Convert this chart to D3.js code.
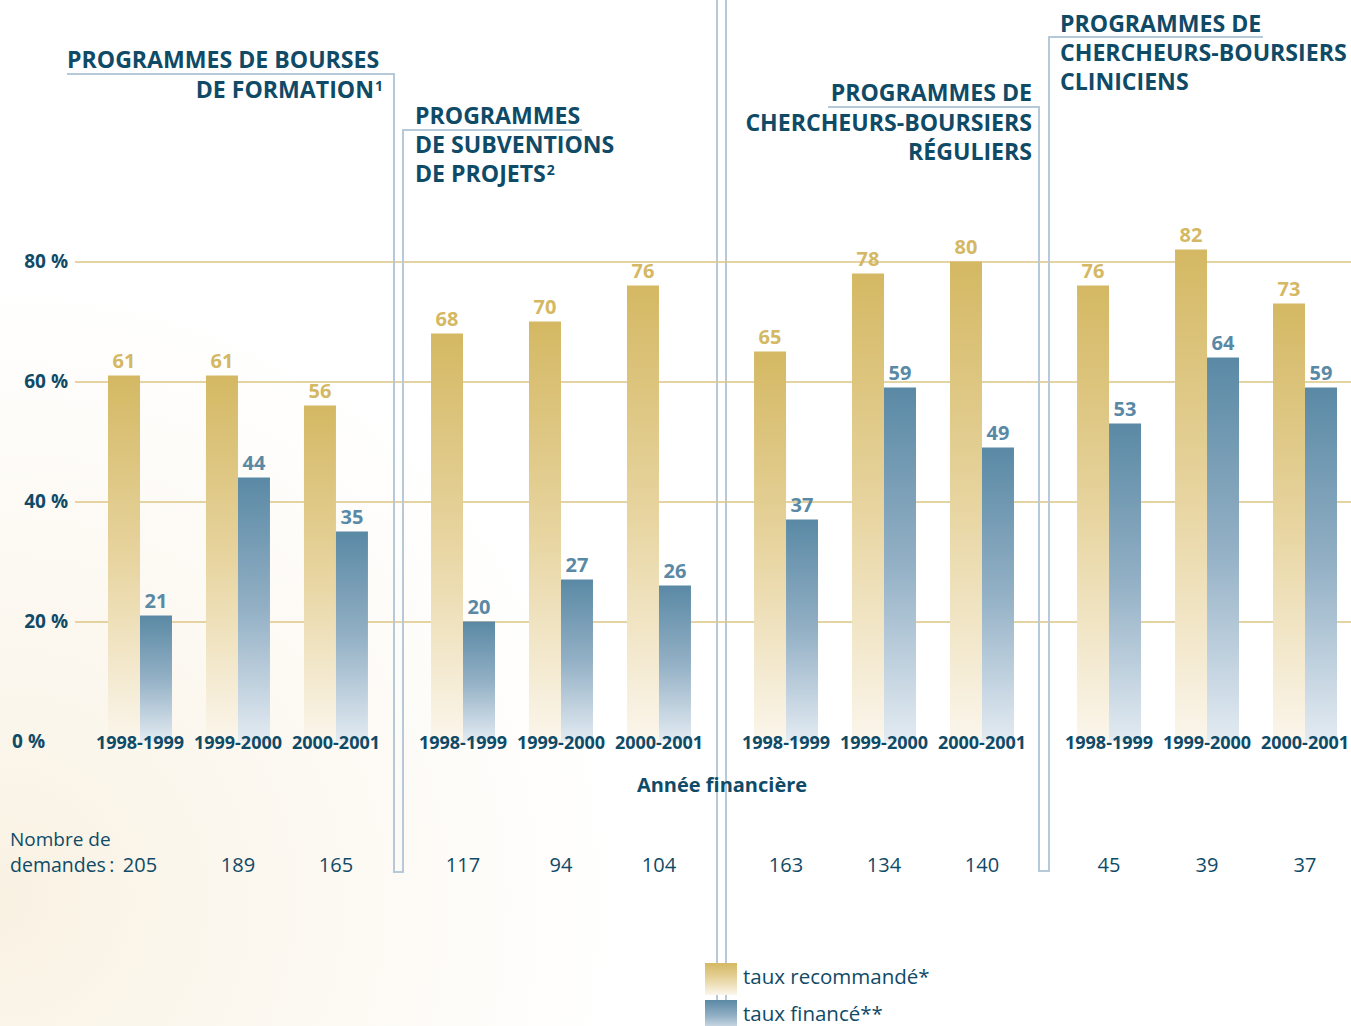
<!DOCTYPE html>
<html>
<head>
<meta charset="utf-8">
<script src="https://cdn.jsdelivr.net/npm/d3@7"></script>
<style>
  body { margin: 0; background: #fff; }
  svg { display: block; font-family: "Open Sans", sans-serif; }
</style>
</head>
<body>
<svg width="1351" height="1026"></svg>
<script>
// program groups and their titles
var programmes = ["formation", "subventions", "reguliers", "cliniciens"];
var years = ["1998-1999", "1999-2000", "2000-2001"];
var series = ["recommandé", "financé"];

// taux recommandé / taux financé (%)
var recommande = [[61, 61, 56], [68, 70, 76], [65, 78, 80], [76, 82, 73]];
var finance = [[21, 44, 35], [20, 27, 26], [37, 59, 49], [53, 64, 59]];
// nombre de demandes
var demandes = [[205, 189, 165], [117, 94, 104], [163, 134, 140], [45, 39, 37]];

var yTicks = [0, 20, 40, 60, 80];
var legendLabels = ["taux recommandé*", "taux financé**"];

var svg = d3.select("svg"),
    width = 1351,
    height = 1026,
    textColor = "#0f4a67",
    gold = "#d4b863",
    blue = "#5a89a5",
    bracketColor = "#b6c9d9";

var defs = svg.append("defs");

function addGradient(id, stops) {
  var g = defs.append("linearGradient").attr("id", id)
      .attr("x1", 0).attr("y1", 0).attr("x2", 0).attr("y2", 1);
  g.selectAll("stop").data(stops).enter().append("stop")
      .attr("offset", function(d) { return d[0]; })
      .attr("stop-color", function(d) { return d[1]; });
}
addGradient("gradRec", [[0, "#d4b863"], [0.5, "#e7d49f"], [1, "#fbf6ec"]]);
addGradient("gradFin", [[0, "#5a89a5"], [0.5, "#93b0c5"], [1, "#e3ebf2"]]);

// faint cream wash on the left side of the page
var bg = defs.append("radialGradient").attr("id", "gradBg")
    .attr("gradientUnits", "userSpaceOnUse")
    .attr("cx", 0).attr("cy", 900).attr("r", 620);
bg.selectAll("stop").data([[0, "#f9f2e3"], [0.45, "#fcf8f0"], [1, "#ffffff"]])
  .enter().append("stop")
    .attr("offset", function(d) { return d[0]; })
    .attr("stop-color", function(d) { return d[1]; });

svg.append("rect").attr("width", width).attr("height", height).attr("fill", "url(#gradBg)");

// scales
var x0 = d3.scaleBand().domain(programmes).range([91, 1354]).paddingInner(0.09);
var x1 = d3.scaleBand().domain(years).range([0, x0.bandwidth()]).paddingInner(0.347).paddingOuter(0.1735);
var xs = d3.scaleBand().domain(series).range([0, x1.bandwidth()]);
var y = d3.scaleLinear().domain([0, 80]).range([741.5, 261.5]);

// page divider (double line)
svg.selectAll(".divider")
  .data([717, 726])
  .enter().append("line")
    .attr("x1", function(d) { return d; }).attr("x2", function(d) { return d; })
    .attr("y1", 0).attr("y2", height)
    .attr("stroke", bracketColor).attr("stroke-width", 2);

// gridlines + y labels via axis
var yAxis = svg.append("g")
    .attr("transform", "translate(75,0)")
    .call(d3.axisLeft(y).tickValues(yTicks).tickSize(-(width - 75)).tickPadding(7)
      .tickFormat(function(d) { return d + " %"; }));
yAxis.select(".domain").remove();
yAxis.selectAll(".tick line")
    .attr("stroke", "#dcc684").attr("stroke-width", 1.5)
    .filter(function(d) { return d === 0; }).remove();
yAxis.selectAll(".tick text")
    .attr("fill", textColor).style("font-size", "19px").style("font-weight", 700)
    .style("font-family", "'Open Sans', sans-serif");
yAxis.selectAll(".tick text").filter(function(d) { return d === 0; })
    .attr("x", -30);

// bars
var groups = svg.selectAll(".prog")
  .data(programmes)
  .enter().append("g")
    .attr("class", "prog")
    .attr("transform", function(d) { return "translate(" + x0(d) + ",0)"; });

var cats = groups.selectAll(".cat")
  .data(function(p, i) {
    return years.map(function(yr, j) {
      return { year: yr, values: [recommande[i][j], finance[i][j]], n: demandes[i][j] };
    });
  })
  .enter().append("g")
    .attr("class", "cat")
    .attr("transform", function(d) { return "translate(" + x1(d.year) + ",0)"; });

cats.selectAll("rect")
  .data(function(d) { return d.values.map(function(v, k) { return { s: series[k], v: v }; }); })
  .enter().append("rect")
    .attr("x", function(d) { return xs(d.s); })
    .attr("y", function(d) { return y(d.v); })
    .attr("width", xs.bandwidth())
    .attr("height", function(d) { return y(0) - y(d.v); })
    .attr("fill", function(d) { return d.s === series[0] ? "url(#gradRec)" : "url(#gradFin)"; });

cats.selectAll(".val")
  .data(function(d) { return d.values.map(function(v, k) { return { s: series[k], v: v }; }); })
  .enter().append("text")
    .attr("class", "val")
    .attr("x", function(d) { return xs(d.s) + xs.bandwidth() / 2; })
    .attr("y", function(d) { return y(d.v) - 8; })
    .attr("text-anchor", "middle")
    .style("font-size", "20px").style("font-weight", 700)
    .attr("fill", function(d) { return d.s === series[0] ? gold : blue; })
    .text(function(d) { return d.v; });

// year labels
cats.append("text")
    .attr("x", x1.bandwidth() / 2)
    .attr("y", 749)
    .attr("text-anchor", "middle")
    .attr("fill", textColor)
    .style("font-size", "18px").style("font-weight", 700)
    .text(function(d) { return d.year; });

// nombre de demandes
cats.append("text")
    .attr("x", x1.bandwidth() / 2)
    .attr("y", 872)
    .attr("text-anchor", "middle")
    .attr("fill", textColor)
    .style("font-size", "20px")
    .text(function(d) { return d.n; });

svg.append("text").attr("x", 10).attr("y", 846).attr("fill", textColor)
    .style("font-size", "19px").text("Nombre de");
svg.append("text").attr("x", 10).attr("y", 872).attr("fill", textColor)
    .style("font-size", "19.5px").text("demandes\u2009:");

svg.append("text").attr("x", 722).attr("y", 792).attr("text-anchor", "middle")
    .attr("fill", textColor).style("font-size", "20px").style("font-weight", 700)
    .text("Année financière");

// brackets around program titles
var bracketPaths = [
  "M67,74H394V872H403V130H582",
  "M828,107H1039V871H1049V37H1263"
];
svg.selectAll(".bracket")
  .data(bracketPaths)
  .enter().append("path")
    .attr("d", function(d) { return d; })
    .attr("fill", "none")
    .attr("stroke", bracketColor).attr("stroke-width", 2);

// titles
var titles = [
  { x: 67, anchor: "start", lines: [["PROGRAMMES DE BOURSES", 68]] },
  { x: 383, anchor: "end", lines: [["DE FORMATION", 98, "1"]] },
  { x: 415, anchor: "start", lines: [["PROGRAMMES", 124], ["DE SUBVENTIONS", 153], ["DE PROJETS", 182, "2"]] },
  { x: 1032, anchor: "end", lines: [["PROGRAMMES DE", 101], ["CHERCHEURS-BOURSIERS", 131], ["RÉGULIERS", 160]] },
  { x: 1060, anchor: "start", lines: [["PROGRAMMES DE", 32], ["CHERCHEURS-BOURSIERS", 61], ["CLINICIENS", 90]] }
];
titles.forEach(function(t) {
  t.lines.forEach(function(l) {
    var txt = svg.append("text")
        .attr("x", t.x).attr("y", l[1])
        .attr("text-anchor", t.anchor)
        .attr("fill", textColor)
        .style("font-size", "23.1px").style("font-weight", 700)
        .text(l[0]);
    if (l[2]) {
      txt.append("tspan").attr("dx", 1).attr("dy", -7).style("font-size", "14px").text(l[2]);
    }
  });
});

// legend
var legend = svg.selectAll(".legend")
  .data(legendLabels)
  .enter().append("g")
    .attr("class", "legend")
    .attr("transform", function(d, i) { return "translate(705," + (963 + i * 37) + ")"; });
legend.append("rect")
    .attr("width", 32).attr("height", 32)
    .attr("fill", function(d, i) { return i === 0 ? "url(#gradRec)" : "url(#gradFin)"; });
legend.append("text")
    .attr("x", 38).attr("y", 21)
    .attr("fill", textColor)
    .style("font-size", "20.5px")
    .text(function(d) { return d; });
</script>
</body>
</html>
